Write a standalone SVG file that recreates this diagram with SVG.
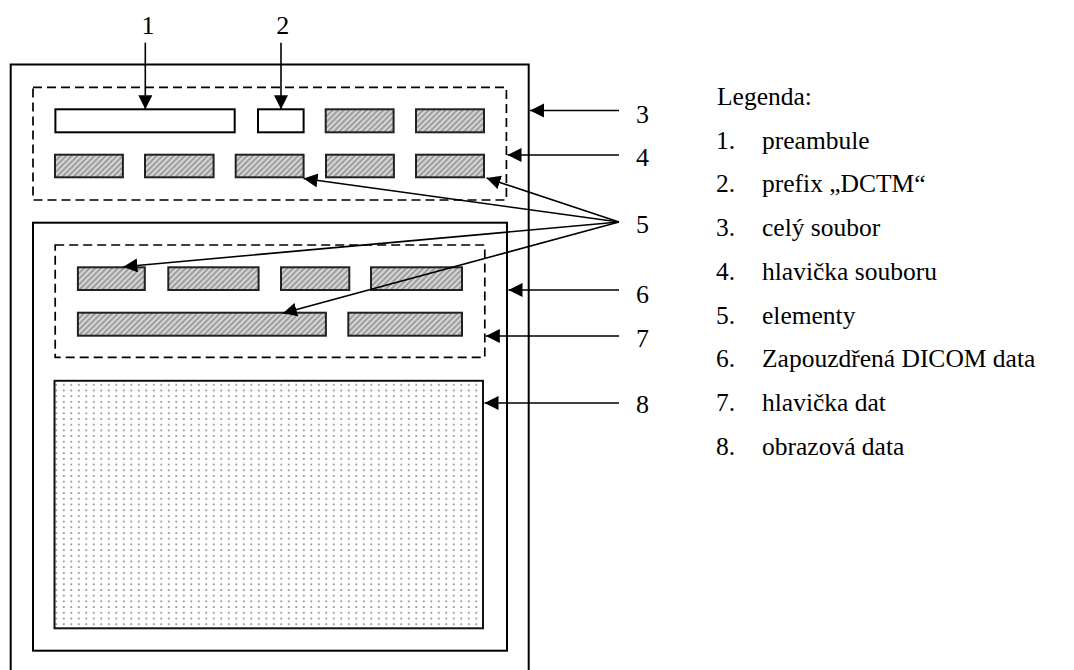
<svg xmlns="http://www.w3.org/2000/svg" width="1074" height="670" viewBox="0 0 1074 670">
<style>
text{font-family:"Liberation Serif","Times New Roman",serif;font-size:26px;fill:#000}
.leg{font-size:25.5px}
.box{fill:none;stroke:#000;stroke-width:2}
.dash{fill:none;stroke:#000;stroke-width:1.7;stroke-dasharray:9 5}
.plain{fill:#fff;stroke:#000;stroke-width:2}
.hatch{fill:url(#hatch);stroke:#222;stroke-width:2}
.dots{fill:url(#dots);stroke:#111;stroke-width:2}
.arr{stroke:#000;stroke-width:1.6;fill:none;marker-end:url(#ah)}
</style>
<defs>
<pattern id="hatch" patternUnits="userSpaceOnUse" width="4" height="4" patternTransform="rotate(45)">
<rect width="4" height="4" fill="#d6d6d6"/>
<line x1="1" y1="0" x2="1" y2="4" stroke="#8c8c8c" stroke-width="1.5"/>
</pattern>
<pattern id="dots" patternUnits="userSpaceOnUse" width="7.5" height="5.7">
<rect width="7.5" height="5.7" fill="#fff"/>
<rect x="3" y="2" width="1.6" height="1.8" fill="#8a8a8a"/>
</pattern>
<marker id="ah" markerUnits="userSpaceOnUse" markerWidth="15" markerHeight="15" refX="14" refY="7" orient="auto">
<path d="M0,0 L14,7 L0,14 Z" fill="#000"/>
</marker>
</defs>
<g id="file">
<rect class="box" x="10.7" y="64.5" width="518" height="620"/>
</g>
<g id="file-header">
<rect class="dash" x="33" y="87.3" width="473.4" height="112.7"/>
</g>
<g id="preamble"><rect class="plain" x="55.4" y="109.3" width="179.3" height="23"/></g>
<g id="prefix"><rect class="plain" x="258" y="109.3" width="45.6" height="23"/></g>
<g id="fh-elements">
<rect class="hatch" x="325.7" y="109.3" width="67.9" height="23"/>
<rect class="hatch" x="416" y="109.3" width="68" height="23"/>
<rect class="hatch" x="55" y="154.7" width="67.9" height="22.6"/>
<rect class="hatch" x="145" y="154.7" width="68.6" height="22.6"/>
<rect class="hatch" x="235.7" y="154.7" width="67.9" height="22.6"/>
<rect class="hatch" x="326" y="154.7" width="67.9" height="22.6"/>
<rect class="hatch" x="416" y="154.7" width="68" height="22.6"/>
</g>
<g id="dicom-data">
<rect class="box" x="33" y="222.7" width="474" height="428"/>
</g>
<g id="data-header">
<rect class="dash" x="55.2" y="245" width="429.6" height="112.3"/>
</g>
<g id="dh-elements">
<rect class="hatch" x="77.9" y="267.3" width="66.9" height="22.7"/>
<rect class="hatch" x="168.3" y="267.3" width="90.3" height="22.7"/>
<rect class="hatch" x="281" y="267.3" width="68.3" height="22.7"/>
<rect class="hatch" x="371" y="267.3" width="91" height="22.7"/>
<rect class="hatch" x="77.9" y="312.7" width="248" height="23"/>
<rect class="hatch" x="348.3" y="312.7" width="113.7" height="23"/>
</g>
<g id="image-data">
<rect class="dots" x="54.5" y="380.8" width="428.5" height="247.5"/>
</g>
<g id="connectors">
<line class="arr" x1="145.3" y1="42.7" x2="145.3" y2="109.3"/>
<line class="arr" x1="281" y1="42.7" x2="281" y2="109.3"/>
<line class="arr" x1="619" y1="110.5" x2="530" y2="110.5"/>
<line class="arr" x1="619" y1="155" x2="507.5" y2="155"/>
<line class="arr" x1="619" y1="222" x2="303.6" y2="178.5"/>
<line class="arr" x1="619" y1="222" x2="486.5" y2="178"/>
<line class="arr" x1="619" y1="222" x2="123.4" y2="266.7"/>
<line class="arr" x1="619" y1="222" x2="282.8" y2="313.3"/>
<line class="arr" x1="619" y1="290" x2="508.5" y2="290"/>
<line class="arr" x1="619" y1="336" x2="485.8" y2="336"/>
<line class="arr" x1="619" y1="403" x2="484.5" y2="403"/>
</g>
<g id="labels">
<text x="148" y="34" text-anchor="middle">1</text>
<text x="282.7" y="34" text-anchor="middle">2</text>
<text x="636" y="123">3</text>
<text x="636" y="166">4</text>
<text x="636" y="233">5</text>
<text x="636" y="302.5">6</text>
<text x="636" y="347">7</text>
<text x="636" y="413">8</text>
</g>
<g id="legend" class="leg">
<text class="leg" x="717" y="105">Legenda:</text>
<text class="leg" x="716" y="148.5">1.</text><text class="leg" x="762" y="148.5">preambule</text>
<text class="leg" x="716" y="192.3">2.</text><text class="leg" x="762" y="192.3">prefix „DCTM“</text>
<text class="leg" x="716" y="236">3.</text><text class="leg" x="762" y="236">celý soubor</text>
<text class="leg" x="716" y="279.8">4.</text><text class="leg" x="762" y="279.8">hlavička souboru</text>
<text class="leg" x="716" y="323.5">5.</text><text class="leg" x="762" y="323.5">elementy</text>
<text class="leg" x="716" y="367.3">6.</text><text class="leg" x="762" y="367.3">Zapouzdřená DICOM data</text>
<text class="leg" x="716" y="411">7.</text><text class="leg" x="762" y="411">hlavička dat</text>
<text class="leg" x="716" y="454.8">8.</text><text class="leg" x="762" y="454.8">obrazová data</text>
</g>
</svg>
